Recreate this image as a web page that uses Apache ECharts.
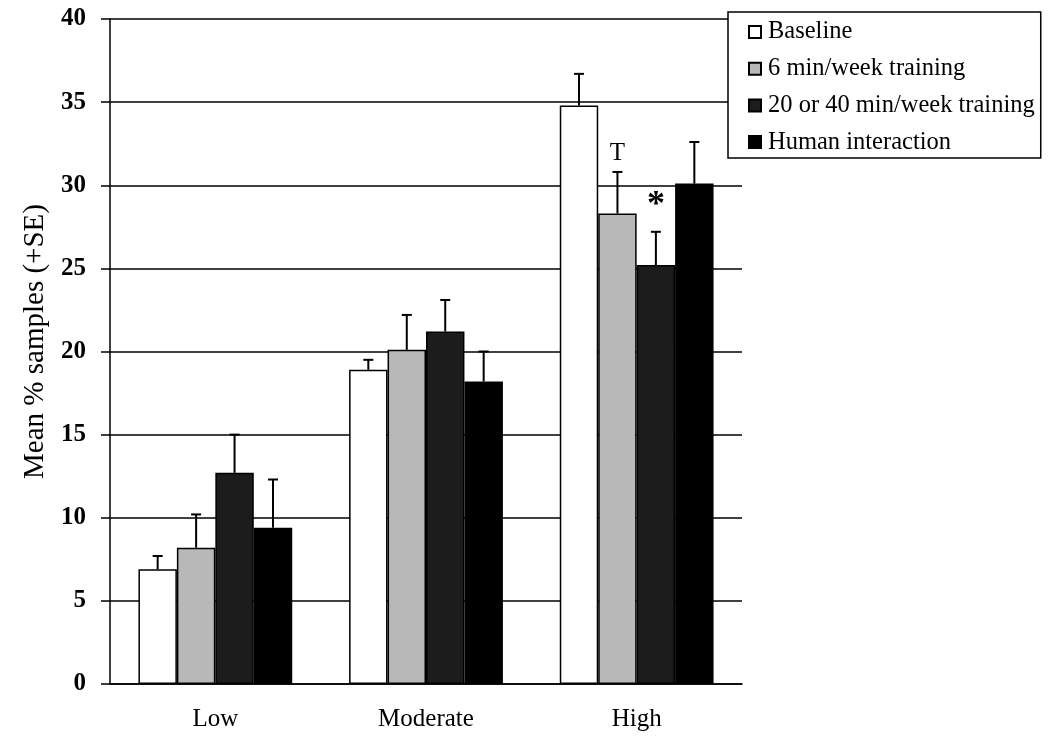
<!DOCTYPE html>
<html>
<head>
<meta charset="utf-8">
<script src="https://cdn.jsdelivr.net/npm/echarts@6/dist/echarts.min.js"></script>
<style>
html,body{margin:0;padding:0;background:#fff;}
#chart{width:1050px;height:740px;}
</style>
</head>
<body>
<div id="chart"></div>
<script>
const categories = ['Low', 'Moderate', 'High'];
const seriesNames = ['Baseline', '6 min/week training', '20 or 40 min/week training', 'Human interaction'];
const baseline = [6.9, 18.9, 34.8];
const sixMin = [8.2, 20.1, 28.3];
const twentyForty = [12.7, 21.2, 25.2];
const human = [9.4, 18.2, 30.1];
const baselineSE = [0.8, 0.6, 1.9];
const sixMinSE = [2.0, 2.1, 2.5];
const twentyFortySE = [2.3, 1.9, 2.0];
const humanSE = [2.9, 1.8, 2.5];
const sixMinNotes = ['', '', 'T'];
const twentyFortyNotes = ['', '', '*'];
const yMin = 0, yMax = 40, yStep = 5;

const means = [baseline, sixMin, twentyForty, human];
const ses = [baselineSE, sixMinSE, twentyFortySE, humanSE];
const notes = [['', '', ''], sixMinNotes, twentyFortyNotes, ['', '', '']];
const fills = ['#ffffff', '#b8b8b8', '#1c1c1c', '#000000'];
const CAT_GAP = 0.27;
const FONT = '"Liberation Serif", "Times New Roman", serif';

const errData = [];
means.forEach((arr, s) => arr.forEach((v, c) => errData.push([c, s, v, ses[s][c], notes[s][c]])));

const chart = echarts.init(document.getElementById('chart'));
chart.setOption({
  animation: false,
  backgroundColor: '#fff',
  textStyle: { fontFamily: FONT, color: '#000' },
  grid: { left: 110, right: 308, top: 19, bottom: 56 },
  legend: {
    orient: 'vertical',
    left: 728, top: 12,
    padding: [7, 6, 3, 20],
    itemGap: 10.7,
    itemWidth: 12, itemHeight: 12,
    icon: 'rect',
    borderColor: '#000', borderWidth: 1.5,
    backgroundColor: '#fff',
    textStyle: { fontFamily: FONT, fontSize: 24.5, color: '#000', lineHeight: 26, padding: [0, 0, 0, 2] },
    data: seriesNames
  },
  xAxis: {
    type: 'category',
    data: categories,
    axisTick: { show: false },
    axisLine: { lineStyle: { color: '#000', width: 1.5 } },
    axisLabel: { fontFamily: FONT, fontSize: 25, color: '#000', margin: 23 }
  },
  yAxis: {
    type: 'value',
    min: yMin, max: yMax, interval: yStep,
    name: 'Mean % samples (+SE)',
    nameLocation: 'middle',
    nameGap: 60,
    nameTextStyle: { fontFamily: FONT, fontSize: 29, color: '#000', padding: [0, 0, 0, 20] },
    axisLine: { show: true, lineStyle: { color: '#000', width: 1.5 } },
    axisTick: { show: true, length: 9, lineStyle: { color: '#000', width: 1.5 } },
    splitLine: { lineStyle: { color: '#000', width: 1.5 } },
    axisLabel: { fontFamily: FONT, fontSize: 25, fontWeight: 'bold', color: '#000', margin: 24 }
  },
  series: means.map((arr, s) => ({
    name: seriesNames[s],
    type: 'bar',
    data: arr,
    barGap: '0%',
    barCategoryGap: (CAT_GAP * 100) + '%',
    itemStyle: { color: fills[s], borderColor: '#000', borderWidth: 1.5 }
  })).concat([{
    type: 'custom',
    z: 5,
    data: errData,
    encode: { x: 0, y: 2 },
    renderItem: function (params, api) {
      const c = api.value(0), s = api.value(1), m = api.value(2), se = api.value(3);
      const note = errData[params.dataIndex][4];
      const bandW = api.size([1, 0])[0];
      const groupW = bandW * (1 - CAT_GAP);
      const barW = groupW / 4;
      const base = api.coord([c, m]);
      const top = api.coord([c, m + se]);
      const x = base[0] - groupW / 2 + (s + 0.5) * barW;
      const st = { stroke: '#000', lineWidth: 2 };
      const children = [
        { type: 'line', shape: { x1: x, y1: base[1], x2: x, y2: top[1] }, style: st },
        { type: 'line', shape: { x1: x - 5, y1: top[1], x2: x + 5, y2: top[1] }, style: st }
      ];
      if (note) {
        const star = note === '*';
        children.push({
          type: 'text',
          x: x, y: top[1] - (star ? 8 : 6),
          style: {
            text: note,
            fontFamily: FONT,
            fontSize: star ? 36 : 25,
            fontWeight: star ? 'bold' : 'normal',
            fill: '#000',
            align: 'center',
            verticalAlign: 'bottom'
          }
        });
      }
      return { type: 'group', children: children };
    }
  }])
});
</script>
</body>
</html>
